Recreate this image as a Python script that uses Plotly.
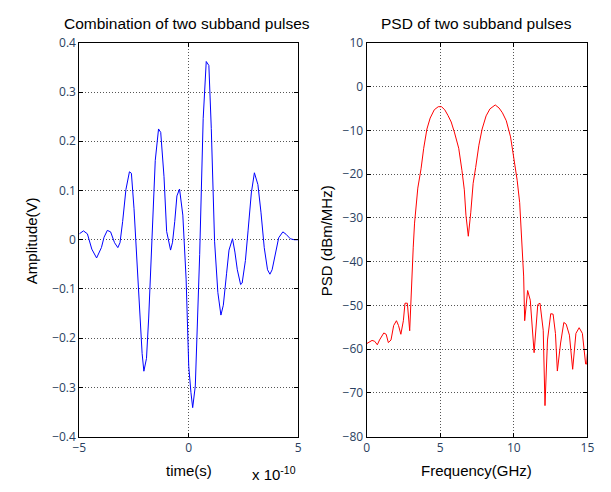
import plotly.graph_objects as go

# Left: time (x1e-10 s) and amplitude (V)
time_e10 = [-5.0, -4.81, -4.63, -4.43, -4.21, -3.99, -3.87, -3.72, -3.57, -3.39, -3.24, -3.14,
            -3.02, -2.95, -2.87, -2.71, -2.62, -2.50, -2.35, -2.23, -2.13, -2.05, -1.93, -1.83,
            -1.73, -1.53, -1.38, -1.28, -1.13, -1.01, -0.83, -0.74, -0.64, -0.54, -0.42, -0.27,
            -0.12, 0.0, 0.10, 0.18, 0.30, 0.40, 0.50, 0.66, 0.80, 0.92, 1.03, 1.18, 1.33, 1.47,
            1.58, 1.73, 1.84, 2.0, 2.11, 2.22, 2.37, 2.44, 2.59, 2.71, 2.86, 3.0, 3.16, 3.30,
            3.45, 3.60, 3.71, 3.81, 3.96, 4.11, 4.30, 4.45, 4.64, 4.82, 5.0]
amplitude = [0.012, 0.018, 0.012, -0.019, -0.037, -0.016, 0.005, 0.019, 0.016, -0.006, -0.016, -0.006,
             0.037, 0.063, 0.102, 0.138, 0.135, 0.063, -0.058, -0.159, -0.231, -0.267, -0.241, -0.159,
             -0.06, 0.161, 0.225, 0.218, 0.128, 0.017, -0.021, -0.005, 0.037, 0.089, 0.103, 0.05,
             -0.08, -0.257, -0.31, -0.341, -0.297, -0.179, -0.03, 0.246, 0.362, 0.354, 0.226, -0.003, -0.107, -0.153,
             -0.133, -0.068, -0.021, 0.002, -0.025, -0.061, -0.091, -0.088, -0.042, 0.018, 0.095, 0.136, 0.112, 0.056,
             -0.016, -0.061, -0.070, -0.061, -0.029, 0.004, 0.016, 0.011, 0.002, 0.0, 0.0]

# Right: frequency (GHz) and PSD (dBm/MHz)
freq_ghz = [0.0, 0.37, 0.55, 0.73, 0.88, 1.17, 1.33, 1.48, 1.66, 1.84, 2.03, 2.17, 2.33, 2.50, 2.61,
            2.77, 2.93, 3.03, 3.17, 3.26, 3.48, 3.70, 3.88, 4.10, 4.32, 4.60, 4.87, 5.09, 5.31, 5.53,
            5.75, 5.98, 6.26, 6.48, 6.64, 6.75, 6.91, 7.08, 7.24, 7.41, 7.63, 7.85, 8.12, 8.38, 8.74,
            9.0, 9.23, 9.49, 9.78, 10.0, 10.23, 10.40, 10.56, 10.67, 10.74, 10.94, 11.12, 11.38, 11.63,
            11.78, 12.0, 12.12, 12.29, 12.51, 12.67, 12.83, 12.96, 13.18, 13.40, 13.56, 13.78, 14.0,
            14.22, 14.44, 14.66, 14.88, 14.95, 15.0]
psd_dbm = [-58.75, -58.0, -58.2, -59.0, -57.9, -56.3, -56.6, -58.5, -57.9, -54.6, -53.5, -54.6, -56.6, -53.5, -49.5,
           -49.5, -55.8, -46.2, -36.7, -31.2, -23.2, -18.8, -14.1, -9.7, -7.2, -5.3, -4.6, -4.6, -5.3, -6.6,
           -8.1, -10.6, -14.1, -19.2, -23.6, -29.4, -34.2, -28.7, -22.1, -18.5, -13.4, -9.7, -6.7, -5.1, -4.2,
           -4.9, -6.0, -7.8, -11.5, -16.3, -21.4, -26.5, -36.7, -43.3, -53.5, -46.6, -48.8, -60.8, -49.8,
           -49.5, -55.7, -72.9, -57.9, -51.9, -52.0, -56.4, -65.0, -58.6, -53.9, -54.3, -56.8, -64.6,
           -56.4, -55.1, -56.4, -63.4, -63.4, -61.0]

left_xticks = [-5, 0, 5]
left_yticks = [-0.4, -0.3, -0.2, -0.1, 0, 0.1, 0.2, 0.3, 0.4]
right_xticks = [0, 5, 10, 15]
right_yticks = [-80, -70, -60, -50, -40, -30, -20, -10, 0, 10]

FONT = "Liberation Sans, Arial, sans-serif"

fig = go.Figure()
fig.add_trace(go.Scatter(x=time_e10, y=amplitude, mode="lines",
                         line=dict(color="#0000FF", width=1), xaxis="x", yaxis="y",
                         showlegend=False))
fig.add_trace(go.Scatter(x=freq_ghz, y=psd_dbm, mode="lines",
                         line=dict(color="#FF0000", width=1), xaxis="x2", yaxis="y2",
                         showlegend=False))

axis_common = dict(showline=True, linecolor="black", linewidth=1, mirror="ticks",
                   ticks="inside", ticklen=4, tickcolor="black",
                   showgrid=True, gridcolor="#555555", griddash="1px,2px",
                   zeroline=False)

ytop = 1 - 35 / 492
ybot = 1 - 443 / 492

fig.update_layout(
    width=611, height=492,
    margin=dict(l=0, r=0, t=0, b=0),
    paper_bgcolor="white", plot_bgcolor="white",
    showlegend=False,
    xaxis=dict(domain=[74 / 611, 298 / 611], range=[-5, 5], anchor="y",
               tickvals=left_xticks, **axis_common),
    yaxis=dict(domain=[ybot, ytop], range=[-0.4, 0.4], anchor="x",
               tickvals=left_yticks, **axis_common),
    xaxis2=dict(domain=[368 / 611, 594 / 611], range=[0, 15], anchor="y2",
                tickvals=right_xticks, **axis_common),
    yaxis2=dict(domain=[ybot, ytop], range=[-80, 10], anchor="x2",
                tickvals=right_yticks, **axis_common),
)

tfont = dict(family=FONT, size=15, color="black")
title_font = dict(family=FONT, size=15.5, color="black")
anns = [
    dict(text="Combination of two subband pulses", x=184 / 611, y=1 - 15 / 492, font=title_font),
    dict(text="PSD of two subband pulses", x=480 / 611, y=1 - 15 / 492, font=title_font),
    dict(text="time(s)", x=186 / 611, y=1 - 478 / 492, font=tfont),
    dict(text="Frequency(GHz)", x=481 / 611, y=1 - 478 / 492, font=tfont),
    dict(text="Amplitude(V)", x=25 / 611, y=1 - 240 / 492, textangle=-90, font=tfont),
    dict(text="PSD (dBm/MHz)", x=327 / 611, y=1 - 240 / 492, textangle=-90, font=tfont),
    dict(text="x 10<sup>-10</sup>", x=273 / 611, y=1 - 481 / 492, font=tfont),
]
for a in anns:
    fig.add_annotation(xref="paper", yref="paper", showarrow=False,
                       xanchor="center", yanchor="middle", **a)

fig.write_html("out.html")
